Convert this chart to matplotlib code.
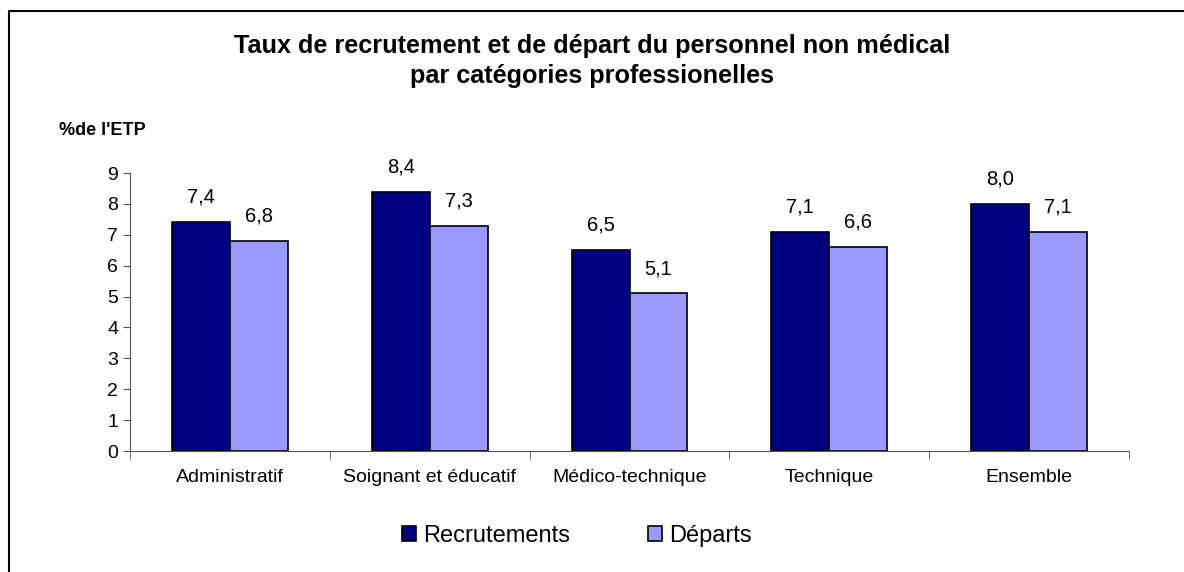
import numpy as np
import matplotlib.pyplot as plt
from matplotlib.lines import Line2D

plt.rcParams['font.family'] = ['Liberation Sans', 'DejaVu Sans']

categories = ["Administratif", "Soignant et éducatif", "Médico-technique", "Technique", "Ensemble"]
recrutements = [7.4, 8.4, 6.5, 7.1, 8.0]
departs = [6.8, 7.3, 5.1, 6.6, 7.1]

fig = plt.figure(figsize=(11.84, 5.72), dpi=100)
ax = fig.add_axes([130 / 1184, 1 - 451 / 572, 999 / 1184, 278 / 572])

x = np.arange(len(categories))
w = 0.29
b1 = ax.bar(x - w / 2, recrutements, w, color="#000080", edgecolor="black", linewidth=1.2, label="Recrutements")
b2 = ax.bar(x + w / 2, departs, w, color="#9999FF", edgecolor="black", linewidth=1.2, label="Départs")

for bars, vals in ((b1, recrutements), (b2, departs)):
    for r, v in zip(bars, vals):
        ax.text(r.get_x() + r.get_width() / 2, v + 0.5, f"{v:.1f}".replace(".", ","),
                ha="center", va="bottom", fontsize=14.5)

ax.set_xlim(-0.5, len(categories) - 0.5)
ax.set_ylim(0, 9)
ax.set_yticks(range(10))
ax.set_xticks(x)
ax.set_xticklabels(categories, fontsize=14)
ax.set_xticks(np.arange(len(categories) + 1) - 0.5, minor=True)
ax.tick_params(axis="x", which="major", length=0, pad=13)
ax.tick_params(axis="x", which="minor", length=6, direction="out", color="#555555")
ax.tick_params(axis="y", length=5, direction="out", labelsize=14, color="#555555")
for s in ("top", "right"):
    ax.spines[s].set_visible(False)
ax.spines["left"].set_color("#555555")
ax.spines["bottom"].set_color("#555555")

fig.text(0.5, 1 - 61 / 572, "Taux de recrutement et de départ du personnel non médical\npar catégories professionelles",
         ha="center", va="center", fontsize=18.2, fontweight="bold", linespacing=1.3)
fig.text(59 / 1184, 1 - 131 / 572, "%de l'ETP", ha="left", va="center", fontsize=13, fontweight="bold")

fig.legend(handles=[b1, b2], loc="center", bbox_to_anchor=(0.487, 1 - 536 / 572), ncol=2,
           frameon=False, fontsize=17, handlelength=0.6, handleheight=0.6,
           handletextpad=0.3, columnspacing=3.3)

fig.add_artist(Line2D([8.5 / 1184, 8.5 / 1184, 1], [0, 1 - 11 / 572, 1 - 11 / 572],
                      transform=fig.transFigure, color="black", linewidth=1.5))

fig.savefig("out.png", dpi=100)
